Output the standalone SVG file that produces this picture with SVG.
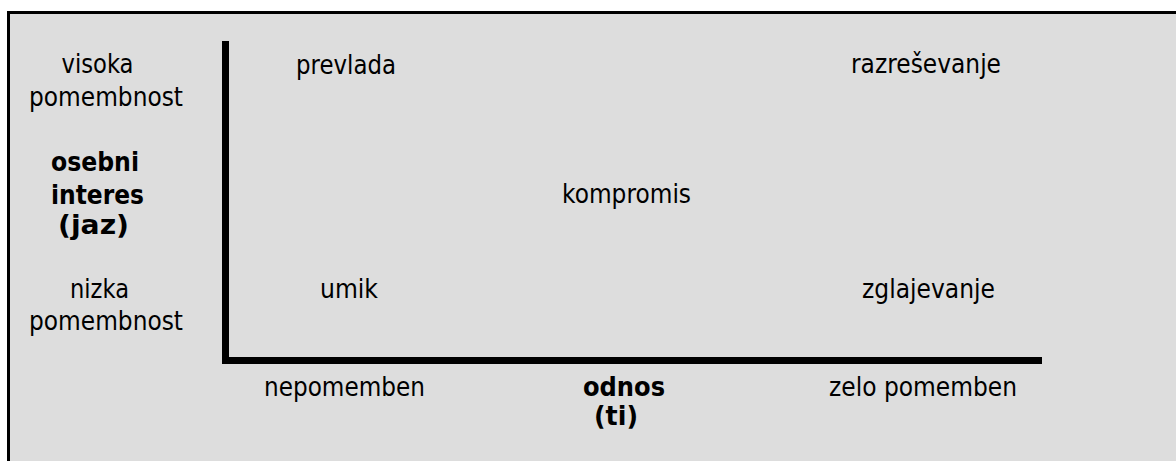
<svg xmlns="http://www.w3.org/2000/svg" width="1176" height="461" viewBox="0 0 1176 461">
<style>
text{font-family:"DejaVu Sans",Verdana,sans-serif;font-size:26px;fill:#000;text-anchor:middle}
.b{font-weight:bold}
.axis{fill:none;stroke:#000;stroke-width:7;stroke-linejoin:miter;stroke-linecap:butt}
</style>
<rect x="8.5" y="12.5" width="1200" height="500" fill="#dddddd" stroke="#000" stroke-width="3"/>
<g id="connectors">
<polyline class="axis" points="225.5,41 225.5,360.5 1042,360.5"/>
</g>
<g id="y-axis-labels">
<text x="97.5" y="73" textLength="72" lengthAdjust="spacingAndGlyphs">visoka</text>
<text x="106" y="106" textLength="154" lengthAdjust="spacingAndGlyphs">pomembnost</text>
<text class="b" x="95" y="171" textLength="88" lengthAdjust="spacingAndGlyphs">osebni</text>
<text class="b" x="97.5" y="204" textLength="93" lengthAdjust="spacingAndGlyphs">interes</text>
<text class="b" x="93.5" y="234" textLength="71" lengthAdjust="spacingAndGlyphs">(jaz)</text>
<text x="99.5" y="298" textLength="59" lengthAdjust="spacingAndGlyphs">nizka</text>
<text x="106" y="330" textLength="154" lengthAdjust="spacingAndGlyphs">pomembnost</text>
</g>
<g id="prevlada"><text x="346" y="74" textLength="100" lengthAdjust="spacingAndGlyphs">prevlada</text></g>
<g id="razresevanje"><text x="926" y="73" textLength="150" lengthAdjust="spacingAndGlyphs">razreševanje</text></g>
<g id="kompromis"><text x="626.5" y="203" textLength="129" lengthAdjust="spacingAndGlyphs">kompromis</text></g>
<g id="umik"><text x="349" y="298" textLength="58" lengthAdjust="spacingAndGlyphs">umik</text></g>
<g id="zglajevanje"><text x="928.5" y="298" textLength="133" lengthAdjust="spacingAndGlyphs">zglajevanje</text></g>
<g id="x-axis-labels">
<text x="344.5" y="396" textLength="161" lengthAdjust="spacingAndGlyphs">nepomemben</text>
<text class="b" x="624" y="396" textLength="82" lengthAdjust="spacingAndGlyphs">odnos</text>
<text class="b" x="616" y="425" textLength="44" lengthAdjust="spacingAndGlyphs">(ti)</text>
<text x="923" y="396" textLength="188" lengthAdjust="spacingAndGlyphs">zelo pomemben</text>
</g>
</svg>
